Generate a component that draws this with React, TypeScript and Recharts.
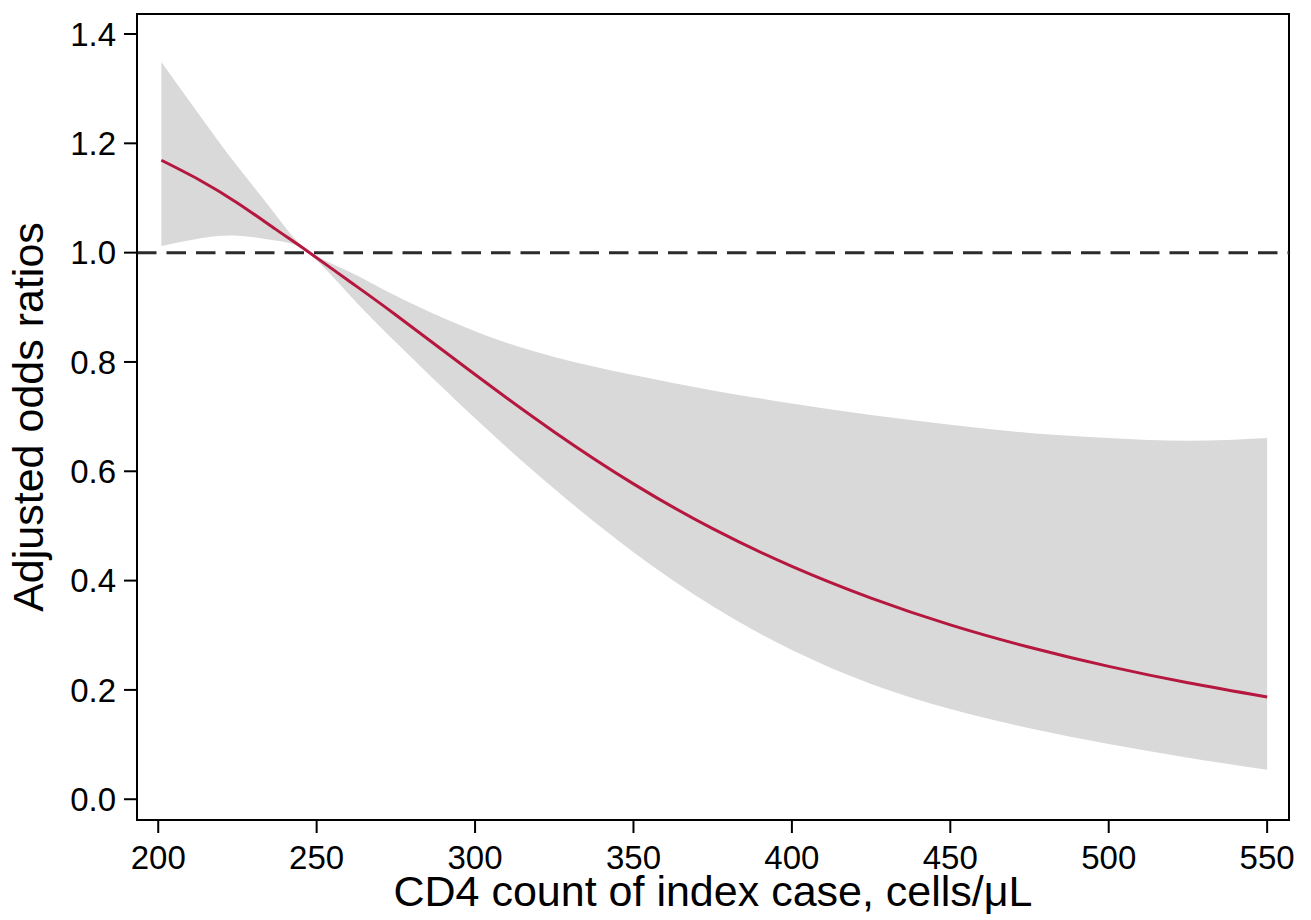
import React from "react";
import {
  ComposedChart,
  Area,
  Line,
  XAxis,
  YAxis,
  ReferenceLine,
  ReferenceArea,
  Label,
} from "recharts";

// CD4 count of index case (cells/µL)
const cd4 = [201, 213, 225, 237, 247, 260, 275, 300, 325, 350, 375, 400, 425, 450, 475, 500, 525, 550];
// Adjusted odds ratio (point estimate)
const aor = [1.169, 1.133, 1.091, 1.043, 1.003, 0.949, 0.886, 0.777, 0.672, 0.577, 0.495, 0.426, 0.368, 0.319, 0.278, 0.243, 0.213, 0.187];
// 95% CI lower bound
const ciLower = [1.012, 1.026, 1.031, 1.022, 1.001, 0.925, 0.836, 0.697, 0.568, 0.452, 0.353, 0.273, 0.211, 0.165, 0.13, 0.101, 0.076, 0.054];
// 95% CI upper bound
const ciUpper = [1.349, 1.252, 1.158, 1.07, 1.005, 0.966, 0.921, 0.856, 0.809, 0.776, 0.748, 0.724, 0.703, 0.685, 0.67, 0.661, 0.656, 0.661];

const xTicks = [200, 250, 300, 350, 400, 450, 500, 550];
const yTicks = [0, 0.2, 0.4, 0.6, 0.8, 1.0, 1.2, 1.4];

const xTitle = "CD4 count of index case, cells/\u03bcL";
const yTitle = "Adjusted odds ratios";

const X_DOMAIN: [number, number] = [193.3, 556.9];
const Y_DOMAIN: [number, number] = [-0.038, 1.4366];

const data = cd4.map((c, i) => ({
  cd4: c,
  aor: aor[i],
  ci: [ciLower[i], ciUpper[i]],
}));

const FONT = "'Liberation Sans', Arial, Helvetica, sans-serif";

export default function App() {
  return (
    <div style={{ position: "absolute", left: 0, top: 0, background: "#fff" }}>
      <ComposedChart
        width={1311}
        height={920}
        data={data}
        margin={{ top: 14, right: 22, bottom: 0, left: 0 }}
        style={{ fontFamily: FONT }}
      >
        <XAxis
          dataKey="cd4"
          type="number"
          domain={X_DOMAIN}
          ticks={xTicks}
          allowDataOverflow
          height={100}
          tickSize={13}
          tickMargin={13}
          axisLine={{ stroke: "#000", strokeWidth: 2 }}
          tickLine={{ stroke: "#000", strokeWidth: 2 }}
          tick={{ fill: "#000", fontSize: 33, fontFamily: FONT }}
        >
          <Label
            content={(props: any) => {
              const vb = props.viewBox || { x: 137, y: 820, width: 1152, height: 100 };
              return (
                <text
                  x={vb.x + vb.width / 2}
                  y={vb.y + 86}
                  textAnchor="middle"
                  fontSize={43}
                  fontFamily={FONT}
                  fill="#000"
                >
                  {xTitle}
                </text>
              );
            }}
          />
        </XAxis>
        <YAxis
          type="number"
          domain={Y_DOMAIN}
          ticks={yTicks}
          allowDataOverflow
          width={137}
          tickSize={13}
          tickMargin={8}
          tickFormatter={(v: number) => v.toFixed(1)}
          axisLine={{ stroke: "#000", strokeWidth: 2 }}
          tickLine={{ stroke: "#000", strokeWidth: 2 }}
          tick={{ fill: "#000", fontSize: 33, fontFamily: FONT }}
        >
          <Label
            content={(props: any) => {
              const vb = props.viewBox || { x: 0, y: 14, width: 137, height: 806 };
              const cx = 43;
              const cy = vb.y + vb.height / 2;
              return (
                <text
                  x={cx}
                  y={cy}
                  transform={`rotate(-90, ${cx}, ${cy})`}
                  textAnchor="middle"
                  fontSize={43}
                  fontFamily={FONT}
                  fill="#000"
                >
                  {yTitle}
                </text>
              );
            }}
          />
        </YAxis>
        <Area
          dataKey="ci"
          type="natural"
          stroke="none"
          fill="#d9d9d9"
          fillOpacity={1}
          isAnimationActive={false}
          activeDot={false}
        />
        <ReferenceLine
          y={1}
          stroke="#2b2b2b"
          strokeWidth={3}
          strokeDasharray="19.5 10"
        />
        <Line
          dataKey="aor"
          type="natural"
          stroke="#b5173f"
          strokeWidth={3}
          dot={false}
          activeDot={false}
          isAnimationActive={false}
        />
        <ReferenceArea
          x1={X_DOMAIN[0]}
          x2={X_DOMAIN[1]}
          y1={Y_DOMAIN[0]}
          y2={Y_DOMAIN[1]}
          fill="none"
          fillOpacity={0}
          stroke="#000"
          strokeWidth={2}
          ifOverflow="visible"
        />
      </ComposedChart>
    </div>
  );
}
